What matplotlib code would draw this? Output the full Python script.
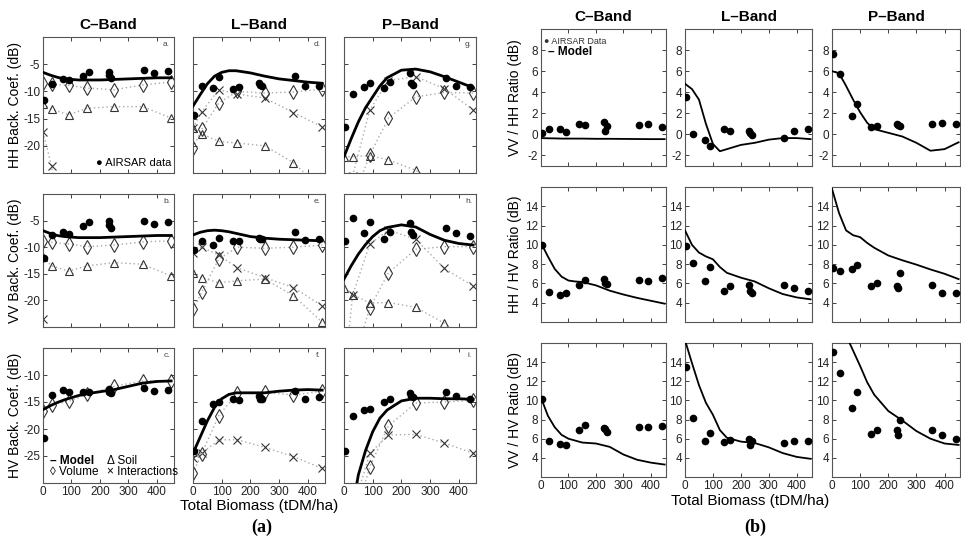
import numpy as np
import matplotlib
matplotlib.use("Agg")
import matplotlib.pyplot as plt

plt.rcParams["font.family"] = ["Liberation Sans", "DejaVu Sans"]
plt.rcParams["axes.unicode_minus"] = False

nan = np.nan

# AIRSAR sites (total biomass, tDM/ha)
biomass = [5, 30, 70, 90, 140, 160, 230, 233, 240, 355, 390, 440]
# x grid of the model curves and of the model components (markers)
model_x = [0, 25, 50, 75, 100, 125, 150, 200, 250, 300, 350, 400, 450]
comp_x = [0, 30, 90, 155, 250, 350, 450]

# ---- (a) backscatter, HH ----
hh_c_data = [-11.5, -8.7, -7.8, -7.9, -7.2, -6.4, -6.5, -7.0, -7.5, -6.0, -6.7, -6.2]
hh_c_model = [-6.5, -7.0, -7.4, -7.7, -7.8, -7.9, -7.9, -7.9, -7.8, -7.7, -7.6, -7.5, -7.5]
hh_c_vol = [-8.4, -8.7, -8.9, -9.4, -9.7, -8.8, -8.3]
hh_c_soil = [-12.4, -13.3, -14.3, -13.1, -12.8, -12.8, -14.9]
hh_c_int = [-17.5, -23.7, -45, nan, nan, nan, nan]

hh_l_data = [-14.3, -9.0, -9.4, -7.4, -9.6, -9.2, -8.5, -8.8, -9.0, -7.2, -9.0, -9.0]
hh_l_model = [-12.7, -10.6, -8.6, -7.2, -6.5, -6.2, -6.2, -6.6, -7.2, -7.7, -8.0, -8.3, -8.5]
hh_l_vol = [-20.4, -17.0, -12.1, -10.0, -10.3, -10.1, -9.6]
hh_l_soil = [-16.7, -17.8, -19.2, -19.5, -20.0, -23.1, -28.0]
hh_l_int = [-16.7, -13.8, -9.7, -10.5, -11.2, -13.9, -16.5]

hh_p_data = [-16.5, -10.5, -9.2, -8.5, -9.4, -8.2, -6.7, -8.4, -8.8, -7.5, -9.0, -9.2]
hh_p_model = [-22.0, -18.7, -15.6, -13.0, -11.0, -9.0, -7.5, -6.1, -5.9, -6.4, -7.3, -8.3, -9.3]
hh_p_vol = [-45, -30, -21.7, -14.9, -11.0, -10.2, -10.3]
hh_p_soil = [-22.0, -22.0, -21.8, -22.6, -24.5, -28.0, nan]
hh_p_int = [-40, -25.5, -13.4, -8.0, -7.3, -9.5, -13.4]

# ---- (a) backscatter, VV ----
vv_c_data = [-12.0, -7.7, -7.2, -7.5, -6.1, -5.3, -5.0, -5.9, -6.4, -5.0, -5.6, -5.3]
vv_c_model = [-6.9, -7.4, -7.8, -8.0, -8.1, -8.2, -8.2, -8.2, -8.1, -8.0, -7.9, -7.8, -7.8]
vv_c_vol = [-8.8, -9.1, -9.4, -9.9, -9.6, -9.0, -8.8]
vv_c_soil = [-11.9, -13.5, -14.5, -13.5, -12.9, -13.2, -15.4]
vv_c_int = [-23.5, -45, nan, nan, nan, nan, nan]

vv_l_data = [-10.5, -8.8, -9.6, -8.2, -8.8, -8.8, -8.2, -8.5, -8.5, -7.2, -8.6, -8.5]
vv_l_model = [-7.7, -7.2, -6.9, -6.8, -6.9, -7.1, -7.4, -8.0, -8.3, -8.5, -8.6, -8.7, -8.8]
vv_l_vol = [-21.7, -18.5, -12.2, -10.0, -10.2, -10.0, -9.6]
vv_l_soil = [-14.8, -15.7, -16.7, -16.3, -16.0, -19.1, -24.1]
vv_l_int = [-11.0, -10.0, -11.5, -13.9, -15.7, -17.6, -21.0]

vv_p_data = [-8.8, -4.6, -7.3, -5.3, -8.5, -7.1, -5.4, -7.2, -7.7, -6.3, -7.4, -7.9]
vv_p_model = [-16.0, -13.5, -11.3, -9.5, -8.0, -6.9, -6.3, -5.8, -6.2, -7.6, -8.7, -9.3, -9.6]
vv_p_vol = [-45, -32, -21.4, -14.8, -10.4, -9.9, -9.9]
vv_p_soil = [-17.6, -18.9, -20.5, -20.4, -21.3, -24.3, -28.0]
vv_p_int = [-35, -19.0, -9.4, -6.8, -8.5, -14.0, -17.3]

# ---- (a) backscatter, HV ----
hv_c_data = [-21.6, -13.7, -12.8, -13.1, -13.1, -13.1, -12.5, -13.1, -13.3, -12.4, -13.0, -12.8]
hv_c_model = [-16.4, -15.7, -15.1, -14.6, -14.2, -13.8, -13.5, -13.1, -12.7, -12.1, -11.5, -11.2, -11.1]
hv_c_vol = [-16.7, -15.5, -14.9, -13.6, -12.1, -11.1, -11.1]

hv_l_data = [-24.1, -18.6, -15.4, -15.0, -14.4, -14.7, -13.9, -14.4, -14.5, -13.0, -14.5, -14.1]
hv_l_model = [-24.5, -21.5, -18.5, -16.0, -14.4, -13.6, -13.3, -13.3, -13.3, -13.0, -12.8, -12.7, -12.8]
hv_l_vol = [-28.2, -24.6, -17.5, -13.3, -13.2, -13.7, -13.0]
hv_l_int = [-25.4, -24.5, -22.0, -22.0, -23.4, -25.1, -27.3]

hv_p_data = [-24.1, -17.6, -16.5, -16.3, -15.0, -14.4, -13.4, -13.9, -14.0, -13.2, -13.9, -14.5]
hv_p_model = [-45, -36, -28.5, -24.0, -20.5, -18.0, -16.5, -14.8, -14.3, -14.3, -14.4, -14.4, -14.5]
hv_p_vol = [-50, -38, -27.0, -19.4, -15.2, -15.0, -14.7]
hv_p_int = [-45, -35, -24.5, -21.1, -21.0, -22.6, -24.5]

# ---- (b) polarisation ratios ----
vvhh_c_data = [0.1, 0.5, 0.5, 0.2, 1.0, 0.85, 1.2, 0.3, 0.8, 0.85, 0.95, 0.7]
vvhh_c_model = [-0.35, -0.37, -0.38, -0.4, -0.4, -0.4, -0.4, -0.42, -0.42, -0.43, -0.44, -0.45, -0.45]
vvhh_l_data = [3.5, 0.0, -0.55, -1.1, 0.5, 0.3, 0.3, 0.1, -0.1, -0.3, 0.3, 0.55]
vvhh_l_model = [4.8, 4.3, 3.3, 1.0, -0.9, -1.6, -1.4, -1.0, -0.8, -0.5, -0.35, -0.35, -0.45]
vvhh_p_data = [7.65, 5.7, 1.7, 2.9, 0.7, 0.8, 1.0, 0.85, 0.8, 1.0, 1.1, 1.0]
vvhh_p_model = [6.0, 5.8, 4.6, 3.3, 2.1, 1.1, 0.5, 0.15, -0.2, -0.8, -1.55, -1.4, -0.75]

hhhv_c_data = [10.0, 5.15, 4.8, 5.05, 5.8, 6.4, 6.5, 6.0, 5.9, 6.35, 6.25, 6.6]
hhhv_c_model = [10.2, 8.8, 7.5, 6.7, 6.3, 6.2, 6.15, 5.8, 5.25, 4.85, 4.5, 4.2, 3.9]
hhhv_l_data = [9.85, 8.1, 6.25, 7.7, 5.25, 5.7, 5.85, 5.25, 5.05, 5.85, 5.5, 5.25]
hhhv_l_model = [11.5, 10.0, 9.2, 8.8, 8.5, 7.7, 7.1, 6.6, 6.2, 5.5, 4.9, 4.55, 4.35]
hhhv_p_data = [7.55, 7.25, 7.5, 7.9, 5.75, 6.0, 5.75, 5.5, 7.05, 5.85, 5.05, 5.0]
hhhv_p_model = [15.8, 13.3, 11.5, 11.0, 10.8, 10.2, 9.7, 8.9, 8.4, 7.95, 7.45, 7.0, 6.45]

vvhv_c_data = [10.15, 5.75, 5.4, 5.3, 6.9, 7.4, 7.15, 7.0, 6.7, 7.25, 7.25, 7.3]
vvhv_c_model = [10.3, 8.4, 7.2, 6.4, 6.0, 5.8, 5.6, 5.5, 5.15, 4.35, 3.8, 3.5, 3.3]
vvhv_l_data = [13.5, 8.2, 5.75, 6.6, 5.65, 5.9, 6.0, 5.3, 5.8, 5.55, 5.75, 5.75]
vvhv_l_model = [16.3, 13.9, 11.6, 9.75, 8.5, 6.9, 6.1, 5.7, 5.55, 5.1, 4.5, 4.1, 3.9]
vvhv_p_data = [15.1, 12.9, 9.2, 10.9, 6.45, 6.9, 6.9, 6.35, 8.0, 6.9, 6.35, 6.0]
vvhv_p_model = [20.0, 18.5, 16.8, 15.2, 13.6, 11.9, 10.6, 8.9, 7.9, 6.8, 6.0, 5.5, 5.35]

bands = ["C–Band", "L–Band", "P–Band"]
W, H = 961, 541
fig = plt.figure(figsize=(W / 100, H / 100), dpi=100)


def box(x0, y0, x1, y1):
    # pixel box (top-left origin) -> figure axes
    return fig.add_axes([x0 / W, 1 - y1 / H, (x1 - x0) / W, (y1 - y0) / H])


def style(ax, xmax, ylim, yticks, show_x, show_y):
    ax.set_xlim(0, xmax)
    ax.set_ylim(*ylim)
    ax.set_xticks([0, 100, 200, 300, 400])
    ax.set_yticks(yticks)
    ax.tick_params(direction="in", top=True, right=True, length=3, width=0.6,
                   labelsize=8.5, colors="#222", pad=2)
    if not show_x:
        ax.set_xticklabels([])
    if not show_y:
        ax.set_yticklabels([])
    for s in ax.spines.values():
        s.set_linewidth(0.8)
        s.set_color("#555")


def comp(ax, y, marker, ms):
    ax.plot(comp_x, y, ls=(0, (1, 2)), color="#aaa", lw=1, marker=marker, ms=ms,
            mfc="none", mec="#333", mew=0.8, zorder=2)


# ---------------- panel (a) ----------------
a_cols = [(43, 174), (193, 325), (344, 476)]
a_rows = [(37, 173), (194, 327), (348, 483)]
a_data = [[hh_c_data, hh_l_data, hh_p_data],
          [vv_c_data, vv_l_data, vv_p_data],
          [hv_c_data, hv_l_data, hv_p_data]]
a_model = [[hh_c_model, hh_l_model, hh_p_model],
           [vv_c_model, vv_l_model, vv_p_model],
           [hv_c_model, hv_l_model, hv_p_model]]
a_vol = [[hh_c_vol, hh_l_vol, hh_p_vol],
         [vv_c_vol, vv_l_vol, vv_p_vol],
         [hv_c_vol, hv_l_vol, hv_p_vol]]
a_soil = [[hh_c_soil, hh_l_soil, hh_p_soil],
          [vv_c_soil, vv_l_soil, vv_p_soil],
          [None, None, None]]
a_int = [[hh_c_int, hh_l_int, hh_p_int],
         [vv_c_int, vv_l_int, vv_p_int],
         [None, hv_l_int, hv_p_int]]
a_ylim = [(-25, 0), (-25, 0), (-30, -5)]
a_yticks = [[-20, -15, -10, -5], [-20, -15, -10, -5], [-25, -20, -15, -10]]
a_ylabels = ["HH Back. Coef. (dB)", "VV Back. Coef. (dB)", "HV Back. Coef. (dB)"]
letters = [["a.", "d.", "g."], ["b.", "e.", "h."], ["c.", "f.", "i."]]

for r, (y0, y1) in enumerate(a_rows):
    for c, (x0, x1) in enumerate(a_cols):
        ax = box(x0, y0, x1, y1)
        if a_soil[r][c] is not None:
            comp(ax, a_soil[r][c], "^", 5.5)
        if a_int[r][c] is not None:
            comp(ax, a_int[r][c], "x", 5.5)
        comp(ax, a_vol[r][c], "d", 7)
        ax.plot(model_x, a_model[r][c], color="k", lw=2, zorder=3)
        ax.plot(biomass, a_data[r][c], ls="none", marker="o", ms=4.5, color="k", zorder=4)
        style(ax, 460, a_ylim[r], a_yticks[r], r == 2, c == 0)
        ax.text(0.97, 0.97, letters[r][c], transform=ax.transAxes, ha="right",
                va="top", fontsize=6, color="#444")
        if r == 0:
            ax.set_title(bands[c], fontsize=11, fontweight="bold", pad=6)
        if r == 0 and c == 0:
            ax.text(0.98, 0.04, "● AIRSAR data", transform=ax.transAxes, ha="right",
                    va="bottom", fontsize=8)
        if r == 2 and c == 0:
            ax.text(0.05, 0.16, "– Model", transform=ax.transAxes, fontsize=8.5,
                    fontweight="bold", va="center")
            ax.text(0.05, 0.08, "◊ Volume", transform=ax.transAxes, fontsize=8.5, va="center")
            ax.text(0.49, 0.16, "Δ Soil", transform=ax.transAxes, fontsize=8.5, va="center")
            ax.text(0.49, 0.08, "× Interactions", transform=ax.transAxes, fontsize=8.5,
                    va="center")
    fig.text(15 / W, 1 - (y0 + y1) / 2 / H, a_ylabels[r], rotation=90,
             ha="center", va="center", fontsize=10)

fig.text(259 / W, 1 - 506 / H, "Total Biomass (tDM/ha)", ha="center", va="center",
         fontsize=11)
fig.text(262 / W, 1 - 527 / H, "(a)", ha="center", va="center", fontsize=13,
         fontweight="bold", family="Liberation Serif")

# ---------------- panel (b) ----------------
b_cols = [(541, 666), (685, 812), (832, 960)]
b_rows = [(29, 166), (187, 322), (343, 477)]
b_data = [[vvhh_c_data, vvhh_l_data, vvhh_p_data],
          [hhhv_c_data, hhhv_l_data, hhhv_p_data],
          [vvhv_c_data, vvhv_l_data, vvhv_p_data]]
b_model = [[vvhh_c_model, vvhh_l_model, vvhh_p_model],
           [hhhv_c_model, hhhv_l_model, hhhv_p_model],
           [vvhv_c_model, vvhv_l_model, vvhv_p_model]]
b_ylim = [(-3, 10), (2, 16), (2, 16)]
b_yticks = [[-2, 0, 2, 4, 6, 8], [4, 6, 8, 10, 12, 14], [4, 6, 8, 10, 12, 14]]
b_ylabels = ["VV / HH Ratio (dB)", "HH / HV Ratio (dB)", "VV / HV Ratio (dB)"]

for r, (y0, y1) in enumerate(b_rows):
    for c, (x0, x1) in enumerate(b_cols):
        ax = box(x0, y0, x1, y1)
        ax.plot(model_x, b_model[r][c], color="k", lw=1.3, zorder=3)
        ax.plot(biomass, b_data[r][c], ls="none", marker="o", ms=4.5, color="k", zorder=4)
        style(ax, 455, b_ylim[r], b_yticks[r], r == 2, True)
        if r == 0:
            ax.set_title(bands[c], fontsize=11, fontweight="bold", pad=6)
        if r == 0 and c == 0:
            ax.text(0.02, 0.91, "● AIRSAR Data", transform=ax.transAxes, fontsize=6.5,
                    va="center", color="#333")
            ax.text(0.06, 0.83, "– Model", transform=ax.transAxes, fontsize=8.5,
                    fontweight="bold", va="center")
    fig.text(515 / W, 1 - (y0 + y1) / 2 / H, b_ylabels[r], rotation=90,
             ha="center", va="center", fontsize=10)

fig.text(750 / W, 1 - 501 / H, "Total Biomass (tDM/ha)", ha="center", va="center",
         fontsize=11)
fig.text(755 / W, 1 - 527 / H, "(b)", ha="center", va="center", fontsize=13,
         fontweight="bold", family="Liberation Serif")

fig.savefig("out.png", dpi=100)
